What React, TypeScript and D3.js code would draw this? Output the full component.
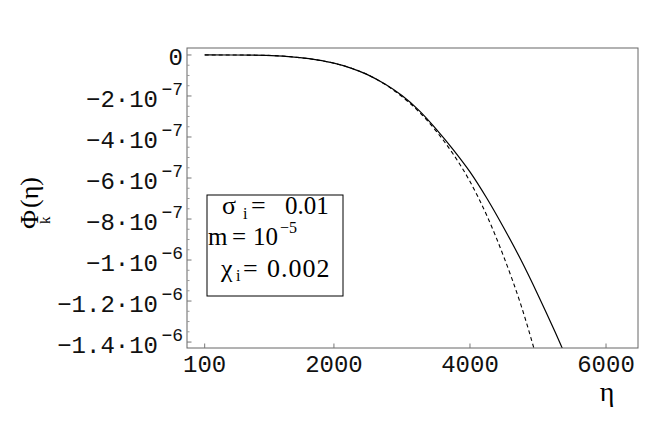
import React from "react";
import * as d3 from "d3";

// eta values (x)
const etaValues = [100, 500, 1000, 1500, 1750, 2000, 2250, 2500, 2750, 3000, 3250, 3500, 3750, 4000, 4250, 4500, 4750, 5000, 5250, 5500];
// Phi_k(eta), in units of 1e-7
const solidPhi = [0, -0.002, -0.02, -0.13, -0.24, -0.4, -0.64, -0.97, -1.42, -1.98, -2.7, -3.6, -4.6, -5.7, -7.0, -8.45, -10.0, -11.7, -13.5, -15.4];
const dashedPhi = [0, -0.002, -0.02, -0.13, -0.24, -0.4, -0.64, -0.97, -1.43, -2.03, -2.77, -3.7, -4.82, -6.17, -7.85, -9.87, -12.2, -15.0, -18.0, -21.0];

const xTicks = [100, 2000, 4000, 6000];
const yMajorTicks = [0, -2, -4, -6, -8, -10, -12, -14];
const yTickMain = ["0", "\u22122\u00b710", "\u22124\u00b710", "\u22126\u00b710", "\u22128\u00b710", "\u22121\u00b710", "\u22121.2\u00b710", "\u22121.4\u00b710"];
const yTickExp = ["", "\u22127", "\u22127", "\u22127", "\u22127", "\u22126", "\u22126", "\u22126"];

const W = 654, H = 422;
const L = 187, R = 638, T = 48, B = 348;

export default function App() {
  const x = d3.scaleLinear().domain([-160, 6470]).range([L, R]);
  const y = d3.scaleLinear().domain([-14.29, 0.34]).range([B, T]);
  const line = d3.line<[number, number]>().x(d => x(d[0])).y(d => y(d[1])).curve(d3.curveMonotoneX);
  const solid = etaValues.map((e, i) => [e, solidPhi[i]] as [number, number]);
  const dashed = etaValues.map((e, i) => [e, dashedPhi[i]] as [number, number]);
  const minor: number[] = [];
  for (let v = 0.0; v >= -14.29; v -= 0.5) {
    if (Math.abs(v % 2) > 1e-6) minor.push(v);
  }
  const mono = "'Liberation Mono', 'DejaVu Sans Mono', monospace";
  const serif = "'Liberation Serif', 'Times New Roman', serif";
  return (
    <svg width={W} height={H} style={{ position: "absolute", left: 0, top: 0, background: "#fff" }}>
      <defs>
        <clipPath id="plot"><rect x={L} y={T} width={R - L} height={B - T} /></clipPath>
      </defs>
      <rect x={0} y={0} width={W} height={H} fill="#fff" />
      <g clipPath="url(#plot)">
        <path d={line(dashed) || ""} fill="none" stroke="#000" strokeWidth={1.1} strokeDasharray="4,3" />
        <path d={line(solid) || ""} fill="none" stroke="#000" strokeWidth={1.2} />
      </g>
      <rect x={L} y={T} width={R - L} height={B - T} fill="none" stroke="#666" strokeWidth={1} />
      {yMajorTicks.map(v => (
        <line key={"ym" + v} x1={L} x2={L + 4.5} y1={y(v)} y2={y(v)} stroke="#777" strokeWidth={1} />
      ))}
      {minor.map(v => (
        <line key={"yn" + v} x1={L} x2={L + 2.5} y1={y(v)} y2={y(v)} stroke="#999" strokeWidth={1} />
      ))}
      {xTicks.map(v => (
        <line key={"xm" + v} x1={x(v)} x2={x(v)} y1={B} y2={B - 4.5} stroke="#777" strokeWidth={1} />
      ))}
      {xTicks.map(v => (
        <text key={"xl" + v} x={x(v)} y={B + 24} textAnchor="middle" fontFamily={mono} fontSize={24} fill="#111">{v}</text>
      ))}
      {yMajorTicks.map((v, i) => (
        yTickExp[i] === "" ? (
          <text key={"yl" + v} x={183} y={y(v) + 10.5} textAnchor="end" fontFamily={mono} fontSize={24} fill="#111">{yTickMain[i]}</text>
        ) : (
          <g key={"yl" + v}>
            <text x={158} y={y(v) + 11} textAnchor="end" fontFamily={mono} fontSize={24} fill="#111">{yTickMain[i]}</text>
            <text x={183} y={y(v) - 1} textAnchor="end" fontFamily={mono} fontSize={18} fill="#111">{yTickExp[i]}</text>
          </g>
        )
      ))}
      <text x={607} y={401} textAnchor="middle" fontFamily={serif} fontSize={28} fill="#000">η</text>
      <g transform="translate(38,229) rotate(-90)">
        <text x={0} y={0} fontFamily={serif} fontSize={26} fill="#000">Φ</text>
        <text x={5} y={12} fontFamily={serif} fontSize={15} fill="#000">k</text>
        <text x={21} y={0} fontFamily={serif} fontSize={26} fill="#000">(η)</text>
      </g>
      <rect x={207} y={195} width={136} height={101} fill="#fff" stroke="#000" strokeWidth={1} />
      <g fontFamily={serif} fill="#000">
        <text x={222} y={214} fontSize={26}>σ</text>
        <text x={243} y={219} fontSize={16}>i</text>
        <text x={251} y={214} fontSize={26}>=</text>
        <text x={285} y={214} fontSize={25}>0.01</text>
        <text x={208} y={245} fontSize={25}>m</text>
        <text x={232} y={245} fontSize={25}>=</text>
        <text x={253} y={245} fontSize={25}>10</text>
        <text x={280} y={233} fontSize={16}>−5</text>
        <text x={221} y={277} fontSize={26}>χ</text>
        <text x={236} y={281} fontSize={16}>i</text>
        <text x={243} y={277} fontSize={26}>=</text>
        <text x={267} y={277} fontSize={26} letterSpacing={1}>0.002</text>
      </g>
    </svg>
  );
}
